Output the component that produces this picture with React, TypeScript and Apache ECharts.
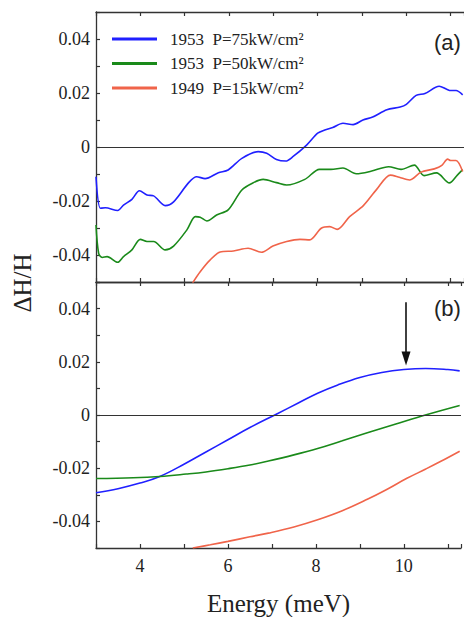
import React, { useEffect, useRef } from "react";
import * as echarts from "echarts";

// ---------- data ----------
const legendYears = ["1953", "1953", "1949"];
const legendPowers = ["P=75kW/cm²", "P=50kW/cm²", "P=15kW/cm²"];
const colors = ["#2020ff", "#1a8a1a", "#f0644a"];

// Panel (a): measured
const blueAE = [3.0, 3.1, 3.21, 3.49, 3.62, 3.81, 3.98, 4.15, 4.3, 4.56, 4.75, 5.09, 5.27, 5.46, 5.76, 5.98, 6.29, 6.66, 6.85, 7.07, 7.28, 7.44, 7.75, 8.0, 8.16, 8.34, 8.57, 8.8, 9.02, 9.24, 9.56, 9.86, 10.0, 10.22, 10.42, 10.74, 10.91, 11.0, 11.12, 11.27];
const blueAV = [-0.011, -0.0227, -0.0225, -0.0235, -0.0215, -0.0194, -0.0162, -0.0178, -0.0181, -0.0217, -0.0203, -0.0132, -0.011, -0.0117, -0.0095, -0.0085, -0.0042, -0.0017, -0.0023, -0.0046, -0.0052, -0.0036, 0.0007, 0.0051, 0.0063, 0.0072, 0.0088, 0.0083, 0.01, 0.0111, 0.0138, 0.0148, 0.0158, 0.0191, 0.0198, 0.0225, 0.0214, 0.0209, 0.0209, 0.0193];

const greenAE = [3.0, 3.06, 3.14, 3.25, 3.49, 3.62, 3.81, 4.0, 4.15, 4.3, 4.56, 4.75, 5.05, 5.24, 5.35, 5.5, 5.72, 5.98, 6.29, 6.55, 6.77, 7.07, 7.3, 7.71, 8.04, 8.3, 8.57, 8.87, 9.2, 9.6, 9.88, 10.18, 10.4, 10.68, 10.97, 11.15, 11.27];
const greenAV = [-0.0289, -0.0394, -0.0409, -0.0406, -0.0427, -0.0406, -0.0381, -0.0342, -0.035, -0.035, -0.0381, -0.0367, -0.0307, -0.0258, -0.026, -0.0274, -0.0252, -0.0233, -0.0159, -0.0132, -0.012, -0.0132, -0.0141, -0.012, -0.0083, -0.0083, -0.0078, -0.0099, -0.009, -0.0073, -0.0083, -0.0067, -0.0106, -0.0096, -0.0133, -0.0104, -0.0084];

const orangeAE = [5.18, 5.35, 5.57, 5.8, 6.1, 6.43, 6.73, 6.99, 7.3, 7.6, 7.82, 8.08, 8.27, 8.44, 8.72, 9.03, 9.33, 9.64, 9.84, 10.07, 10.33, 10.63, 10.8, 10.93, 11.0, 11.12, 11.27];
const orangeAV = [-0.0503, -0.0462, -0.0419, -0.0389, -0.0385, -0.0375, -0.039, -0.0367, -0.035, -0.0342, -0.0344, -0.0301, -0.0295, -0.0305, -0.0258, -0.0217, -0.0157, -0.0104, -0.0112, -0.0122, -0.0093, -0.0081, -0.0068, -0.0045, -0.005, -0.005, -0.0091];

// Panel (b): calculated
const blueBE = [3.0, 3.5, 4.0, 4.45, 5.0, 5.5, 6.0, 6.5, 7.1, 7.6, 8.04, 8.5, 9.0, 9.5, 10.0, 10.5, 11.0, 11.27];
const blueBV = [-0.0292, -0.0277, -0.0256, -0.0231, -0.0185, -0.0139, -0.0093, -0.0047, 0.0003, 0.0045, 0.0082, 0.0113, 0.0141, 0.016, 0.0171, 0.0175, 0.0171, 0.0166];

const greenBE = [3.0, 3.85, 4.45, 5.05, 5.5, 6.0, 6.5, 6.92, 7.5, 8.04, 8.6, 9.17, 9.8, 10.51, 11.27];
const greenBV = [-0.0239, -0.0236, -0.0231, -0.0222, -0.0214, -0.0202, -0.0188, -0.0173, -0.015, -0.0126, -0.0097, -0.0067, -0.0035, 0.0001, 0.0036];

const orangeBE = [5.2, 5.6, 6.0, 6.5, 6.92, 7.5, 8.04, 8.6, 9.17, 9.6, 10.07, 10.5, 10.82, 11.27];
const orangeBV = [-0.05, -0.0488, -0.0475, -0.0458, -0.0444, -0.0421, -0.0394, -0.036, -0.0317, -0.0281, -0.0238, -0.0203, -0.0176, -0.0136];

// arrow marking the maximum in (b)
const arrowE = 10.05;
const arrowFrom = 0.0424;
const arrowTo = 0.0212;

const panelLabels = ["(a)", "(b)"];
const xMin = 3;
const xMax = 11.3;

const zip = (xs: number[], ys: number[]) => xs.map((x, i) => [x, ys[i]]);

const SERIF = "'Liberation Serif', 'Times New Roman', serif";
const AXC = "#333";

function makeX(gridIndex: number, position: string, labels: boolean) {
  return {
    type: "value",
    gridIndex,
    position,
    min: xMin,
    max: xMax,
    interval: 1,
    axisLine: { show: true, onZero: false, lineStyle: { color: AXC, width: 1.3 } },
    axisTick: { show: true, inside: true, length: 4, lineStyle: { color: AXC, width: 1.2 } },
    splitLine: { show: false },
    axisLabel: {
      show: labels,
      margin: 9,
      color: "#222",
      fontFamily: SERIF,
      fontSize: 18,
      formatter: (v: number) => {
        const r = Math.round(v);
        if (Math.abs(v - r) > 1e-6 || r % 2 !== 0 || r <= xMin || v >= xMax) return "";
        return String(r);
      },
    },
    ...(labels
      ? {
          name: "Energy (meV)",
          nameLocation: "middle",
          nameGap: 43,
          nameTextStyle: { fontFamily: SERIF, fontSize: 25, color: "#222" },
        }
      : {}),
  };
}

function makeY(gridIndex: number) {
  return {
    type: "value",
    gridIndex,
    min: -0.05,
    max: 0.05,
    interval: 0.01,
    axisLine: { show: true, onZero: false, lineStyle: { color: AXC, width: 1.3 } },
    axisTick: { show: true, inside: true, length: 4, lineStyle: { color: AXC, width: 1.2 } },
    splitLine: { show: false },
    axisLabel: {
      margin: 6,
      color: "#222",
      fontFamily: SERIF,
      fontSize: 18,
      formatter: (v: number) => {
        const r = Math.round(v * 100);
        if (r % 2 !== 0 || Math.abs(r) >= 5) return "";
        return r === 0 ? "0" : (r / 100).toFixed(2);
      },
    },
  };
}

const zeroLine = {
  silent: true,
  symbol: ["none", "none"],
  label: { show: false },
  lineStyle: { color: "#333", width: 1.2, type: "solid" },
  data: [{ yAxis: 0 }],
};

export default function App() {
  const ref = useRef<HTMLDivElement>(null);
  useEffect(() => {
    if (!ref.current) return;
    const chart = echarts.init(ref.current, null, { renderer: "svg" });
    const line = (name: string, data: number[][], color: string, gi: number, smooth: number, extra: any = {}) => ({
      type: "line",
      name,
      data,
      xAxisIndex: gi === 0 ? 0 : 2,
      yAxisIndex: gi,
      showSymbol: false,
      smooth,
      clip: true,
      lineStyle: { color, width: 1.6 },
      itemStyle: { color },
      ...extra,
    });
    const names = legendYears.map((y, i) => `${y}  ${legendPowers[i]}`);
    const legendGraphics: any[] = [];
    names.forEach((n, i) => {
      const y = 39 + i * 24.5;
      legendGraphics.push({
        type: "line",
        shape: { x1: 112, y1: y, x2: 157, y2: y },
        style: { stroke: colors[i], lineWidth: 3 },
      });
      legendGraphics.push({
        type: "text",
        x: 170,
        y,
        style: { text: n, font: `17px ${SERIF}`, fill: "#222", textVerticalAlign: "middle", verticalAlign: "middle" },
      });
    });

    chart.setOption({
      animation: false,
      backgroundColor: "#fff",
      textStyle: { fontFamily: SERIF },
      grid: [
        { left: 96, top: 12, width: 369, height: 270 },
        { left: 96, top: 282, width: 369, height: 268 },
      ],
      xAxis: [makeX(0, "bottom", false), makeX(0, "top", false), makeX(1, "bottom", true), makeX(1, "top", false)],
      yAxis: [makeY(0), makeY(1)],
      series: [
        line(names[0], zip(blueAE, blueAV), colors[0], 0, 0.3, { markLine: zeroLine }),
        line(names[1], zip(greenAE, greenAV), colors[1], 0, 0.3),
        line(names[2], zip(orangeAE, orangeAV), colors[2], 0, 0.3),
        line(names[0], zip(blueBE, blueBV), colors[0], 1, 0.4, {
          markLine: {
            silent: true,
            symbol: ["none", "triangle"],
            symbolSize: [9, 14],
            label: { show: false },
            itemStyle: { color: "#111" },
            lineStyle: { color: "#111", width: 1.6, type: "solid" },
            data: [[{ coord: [arrowE, arrowFrom] }, { coord: [arrowE, arrowTo] }]],
          },
        }),
        line(names[1], zip(greenBE, greenBV), colors[1], 1, 0.4, { markLine: zeroLine }),
        line(names[2], zip(orangeBE, orangeBV), colors[2], 1, 0.4),
      ],
      graphic: [
        ...legendGraphics,
        {
          type: "text",
          x: 22,
          y: 283,
          rotation: Math.PI / 2,
          style: { text: "ΔH/H", font: `25px ${SERIF}`, fill: "#222", textAlign: "center", textVerticalAlign: "middle", align: "center", verticalAlign: "middle" },
        },
        {
          type: "text",
          x: 434,
          y: 42,
          style: { text: panelLabels[0], font: "22px 'Liberation Sans', sans-serif", fill: "#222", textVerticalAlign: "middle", verticalAlign: "middle" },
        },
        {
          type: "text",
          x: 434,
          y: 308,
          style: { text: panelLabels[1], font: "22px 'Liberation Sans', sans-serif", fill: "#222", textVerticalAlign: "middle", verticalAlign: "middle" },
        },
      ],
    });
    return () => chart.dispose();
  }, []);
  return <div ref={ref} style={{ position: "absolute", left: 0, top: 0, width: 464, height: 617 }} />;
}
